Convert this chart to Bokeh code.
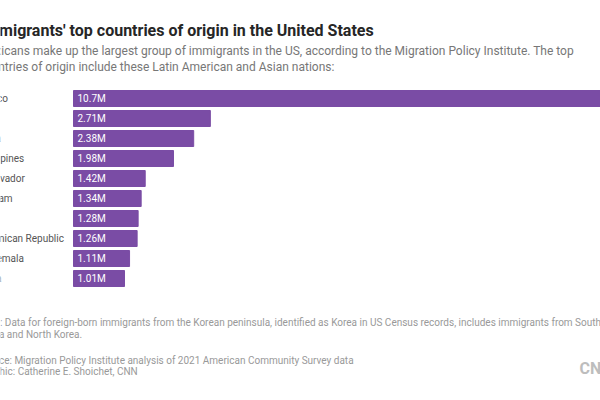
from bokeh.plotting import figure
from bokeh.layouts import column
from bokeh.models import Label, FactorRange, Range1d, ColumnDataSource
from bokeh.core.properties import value
from bokeh.embed import file_html
from bokeh.resources import INLINE

# ---- data ----
countries = ["Mexico", "India", "China", "Philippines", "El Salvador",
             "Vietnam", "Cuba", "Dominican Republic", "Guatemala", "Korea"]
immigrants_m = [10.7, 2.71, 2.38, 1.98, 1.42, 1.34, 1.28, 1.26, 1.11, 1.01]
value_labels = ["10.7M", "2.71M", "2.38M", "1.98M", "1.42M",
                "1.34M", "1.28M", "1.26M", "1.11M", "1.01M"]

title = "Immigrants' top countries of origin in the United States"
subtitle = ["Mexicans make up the largest group of immigrants in the US, according to the Migration Policy Institute. The top",
            "countries of origin include these Latin American and Asian nations:"]
notes = ["Note: Data for foreign-born immigrants from the Korean peninsula, identified as Korea in US Census records, includes immigrants from South",
         "Korea and North Korea."]
credits = ["Source: Migration Policy Institute analysis of 2021 American Community Survey data",
           "Graphic: Catherine E. Shoichet, CNN"]

FONT = "Roboto"
BAR = "#7a4ca5"

W = 600
HEAD, BARS, FOOT = 88, 200, 112
px_per_m = 50.5
x0 = 73
LEFT = -22


def blank_fig(h):
    f = figure(width=W, height=h, output_backend="svg", toolbar_location=None,
               x_range=Range1d(0, W), y_range=Range1d(h, 0),
               x_axis_location=None, y_axis_location=None,
               min_border=0)
    f.grid.visible = False
    f.outline_line_color = None
    return f


def add_text(f, txt, x, y, size, color, bold=False):
    f.add_layout(Label(x=x, y=y, text=txt, text_font=FONT, text_font_size=size,
                       text_color=color, text_font_style="bold" if bold else "normal",
                       text_baseline="alphabetic"))


# header
head = blank_fig(HEAD)
add_text(head, title, -20, 30, "16px", "#262626", bold=True)
add_text(head, subtitle[0], LEFT, 50, "12px", "#777777")
add_text(head, subtitle[1], LEFT, 66, "12px", "#777777")

# bars
src = ColumnDataSource(dict(country=countries, v=immigrants_m, lab=value_labels))
p = figure(width=W, height=BARS, output_backend="svg", toolbar_location=None,
           x_range=Range1d(-x0 / px_per_m, (W - x0) / px_per_m),
           y_range=FactorRange(factors=countries[::-1], range_padding=0),
           x_axis_location=None, y_axis_location=None, min_border=0)
p.grid.visible = False
p.outline_line_color = None
p.hbar(y="country", left=0, right="v", height=0.8, color=BAR, source=src)
p.text(x=0, y="country", text="lab", source=src, x_offset=4,
       text_baseline="middle", text_color="white",
       text_font=value(FONT), text_font_size="10px")
p.text(x=0, y="country", text="country", source=src, x_offset=-25 - x0,
       text_baseline="middle", text_color="#555555",
       text_font=value(FONT), text_font_size="10px")

# footer
foot = blank_fig(FOOT)
off = HEAD + BARS
add_text(foot, notes[0], LEFT, 322 - off, "10px", "#999999")
add_text(foot, notes[1], LEFT, 334 - off, "10px", "#999999")
add_text(foot, credits[0], LEFT, 360 - off, "10px", "#999999")
add_text(foot, credits[1], LEFT, 371 - off, "10px", "#999999")
add_text(foot, "CNN", 579, 368 - off, "16px", "#bdbdbd", bold=True)

layout = column(head, p, foot, spacing=0)
open("out.html", "w").write(file_html(layout, INLINE))
